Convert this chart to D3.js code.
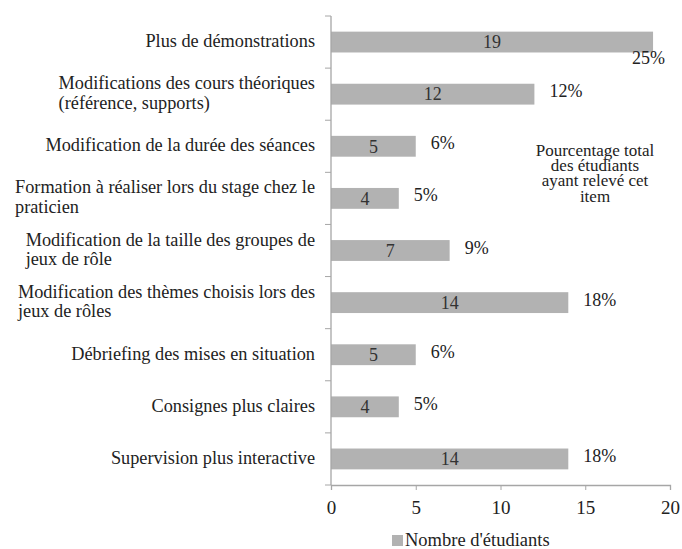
<!DOCTYPE html>
<html><head><meta charset="utf-8">
<script src="https://cdn.jsdelivr.net/npm/d3@7/dist/d3.min.js"></script>
<style>
body{margin:0;background:#fff;}
text{font-family:"Liberation Serif","Times New Roman",serif;fill:#222;}
</style></head>
<body><svg id="c" width="682" height="549"></svg>
<script>
const categories = [
  ["Plus de démonstrations"],
  ["Modifications des cours théoriques", "(référence, supports)"],
  ["Modification de la durée des séances"],
  ["Formation à réaliser lors du stage chez le", "praticien"],
  ["Modification de la taille des groupes de", "jeux de rôle"],
  ["Modification des thèmes choisis lors des", "jeux de rôles"],
  ["Débriefing des mises en situation"],
  ["Consignes plus claires"],
  ["Supervision plus interactive"]
];
const counts = [19, 12, 5, 4, 7, 14, 5, 4, 14];
const percents = ["25%", "12%", "6%", "5%", "9%", "18%", "6%", "5%", "18%"];
const xTicks = [0, 5, 10, 15, 20];
const seriesName = "Nombre d'étudiants";
const noteLines = ["Pourcentage total", "des étudiants", "ayant relevé cet", "item"];

const svg = d3.select("#c");
const pL = 331, pR = 670, pT = 16, pB = 485;
const x = d3.scaleLinear().domain([0, 20]).range([pL, pR]);
const y = d3.scaleBand().domain(d3.range(categories.length)).range([pT, pB]).paddingInner(0.6).paddingOuter(0.3);
const band = d3.scaleBand().domain(d3.range(categories.length)).range([pT, pB]);
const barColor = "#b2b2b2", axisColor = "#a6a6a6";

// bars
svg.append("g").selectAll("rect").data(counts).join("rect")
  .attr("x", x(0)).attr("y", (d, i) => y(i))
  .attr("width", d => x(d) - x(0)).attr("height", y.bandwidth())
  .attr("fill", barColor);

// value labels
svg.append("g").selectAll("text").data(counts).join("text")
  .attr("x", d => (x(0) + x(d)) / 2)
  .attr("y", (d, i) => y(i) + y.bandwidth() / 2)
  .attr("dy", "0.35em").attr("text-anchor", "middle")
  .attr("font-size", 18).style("fill", "#333")
  .text(d => d);

// percent labels
svg.append("g").selectAll("text").data(counts).join("text")
  .each(function(d, i) {
    const c = band(i) + band.bandwidth() / 2;
    const t = d3.select(this).attr("font-size", 18).text(percents[i]);
    if (x(d) + 50 > 682) {
      t.attr("x", x(d) + 12).attr("y", c + 22).attr("text-anchor", "end");
    } else {
      t.attr("x", x(d) + 15).attr("y", c + 3).attr("text-anchor", "start");
    }
  });

// y axis
svg.append("line").attr("x1", pL).attr("x2", pL).attr("y1", pT).attr("y2", pB)
  .attr("stroke", axisColor).attr("stroke-width", 1.3);
svg.append("g").selectAll("line").data(d3.range(categories.length + 1)).join("line")
  .attr("x1", pL - 6).attr("x2", pL)
  .attr("y1", i => pT + i * band.step()).attr("y2", i => pT + i * band.step())
  .attr("stroke", axisColor);

// category labels
const lab = svg.append("g");
categories.forEach((lines, i) => {
  const c = band(i) + band.bandwidth() / 2;
  const g = lab.append("g");
  const lh = 19.7;
  const texts = lines.map((l, j) => g.append("text")
    .attr("font-size", 18.3)
    .attr("y", c + (j - (lines.length - 1) / 2) * lh)
    .attr("dy", "0.27em").text(l));
  const w = d3.max(texts, t => t.node().getComputedTextLength());
  texts.forEach(t => t.attr("x", 315 - w));
});

// x axis
const xa = svg.append("g").attr("transform", `translate(0,${pB})`)
  .call(d3.axisBottom(x).tickValues(xTicks).tickSize(5).tickPadding(11));
xa.select(".domain").attr("stroke", axisColor).attr("stroke-width", 1.3);
xa.selectAll(".tick line").attr("stroke", axisColor);
xa.selectAll(".tick text").attr("font-size", 19).attr("font-family", '"Liberation Serif",serif').style("fill", "#222");

// note
svg.append("g").selectAll("text").data(noteLines).join("text")
  .attr("x", 595).attr("y", (d, i) => 155.5 + i * 15.4)
  .attr("text-anchor", "middle").attr("font-size", 17).text(d => d);

// legend
svg.append("rect").attr("x", 392).attr("y", 535).attr("width", 11).attr("height", 11).attr("fill", barColor);
svg.append("text").attr("x", 405).attr("y", 546).attr("font-size", 18.5).text(seriesName);
</script></body></html>
